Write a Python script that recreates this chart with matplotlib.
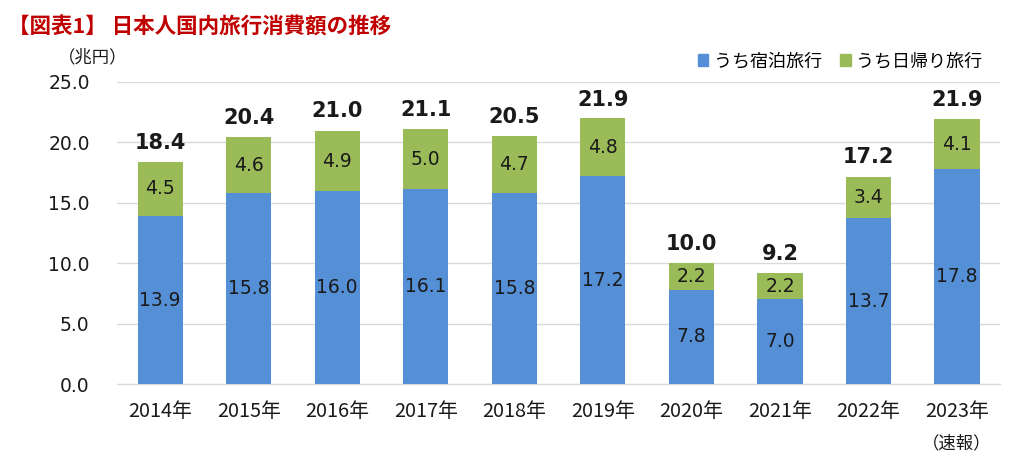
import matplotlib
matplotlib.use("Agg")
import matplotlib.pyplot as plt
from matplotlib.patches import Patch

plt.rcParams['font.family'] = ['Noto Sans CJK JP', 'DejaVu Sans']

years = ["2014年", "2015年", "2016年", "2017年", "2018年", "2019年", "2020年", "2021年", "2022年", "2023年"]
overnight = [13.9, 15.8, 16.0, 16.1, 15.8, 17.2, 7.8, 7.0, 13.7, 17.8]
daytrip = [4.5, 4.6, 4.9, 5.0, 4.7, 4.8, 2.2, 2.2, 3.4, 4.1]
totals = [18.4, 20.4, 21.0, 21.1, 20.5, 21.9, 10.0, 9.2, 17.2, 21.9]
yticks = [0, 5, 10, 15, 20, 25]

blue = "#5590D6"
green = "#9BBB59"
text_col = "#1a1a1a"
num_font = ['DejaVu Sans']

fig = plt.figure(figsize=(10.24, 4.65), dpi=100)
ax = fig.add_axes([0.114, 0.174, 0.863, 0.650])

x = list(range(len(years)))
w = 0.51
ax.bar(x, overnight, width=w, color=blue, zorder=3)
ax.bar(x, daytrip, width=w, bottom=overnight, color=green, zorder=3)

for i in x:
    ax.text(i, overnight[i] / 2, f"{overnight[i]:.1f}", ha="center", va="center",
            fontsize=13.5, color=text_col, zorder=4, family=num_font)
    ax.text(i, overnight[i] + daytrip[i] / 2, f"{daytrip[i]:.1f}", ha="center", va="center",
            fontsize=13.5, color=text_col, zorder=4, family=num_font)
    ax.text(i, totals[i] + 0.75, f"{totals[i]:.1f}", ha="center", va="bottom",
            fontsize=15, fontweight="bold", color=text_col, zorder=4, family=num_font)

ax.set_xlim(-0.49, len(years) - 1 + 0.49)
ax.set_ylim(0, 25)
ax.set_yticks(yticks)
ax.set_yticklabels([f"{v:.1f}" for v in yticks], fontsize=13.5, color=text_col, family=num_font)
ax.set_xticks(x)
ax.set_xticklabels(years, fontsize=14.3, color=text_col)
ax.tick_params(axis="both", length=0)
ax.tick_params(axis="x", pad=12)
ax.tick_params(axis="y", pad=19.5)
ax.grid(axis="y", color="#D9D9D9", linewidth=1, zorder=0)
for s in ["top", "right", "left"]:
    ax.spines[s].set_visible(False)
ax.spines["bottom"].set_color("#D9D9D9")

fig.text(0.008, 0.942, "【図表1】 日本人国内旅行消費額の推移", fontsize=15.5, fontweight="bold",
         color="#C00000", va="center", ha="left")
fig.text(0.057, 0.877, "（兆円）", fontsize=12.5, color=text_col, va="center", ha="left")
ax.text(9, -0.195, "（速報）", transform=ax.get_xaxis_transform(), fontsize=12.5,
        color=text_col, ha="center", va="center")

handles = [Patch(color=blue), Patch(color=green)]
fig.legend(handles, ["うち宿泊旅行", "うち日帰り旅行"], loc="center right",
           bbox_to_anchor=(0.975, 0.868), ncol=2, frameon=False, fontsize=13,
           handlelength=0.6, handleheight=0.6, handletextpad=0.3, columnspacing=1.0)

fig.savefig("out.png", dpi=100, facecolor="white")
